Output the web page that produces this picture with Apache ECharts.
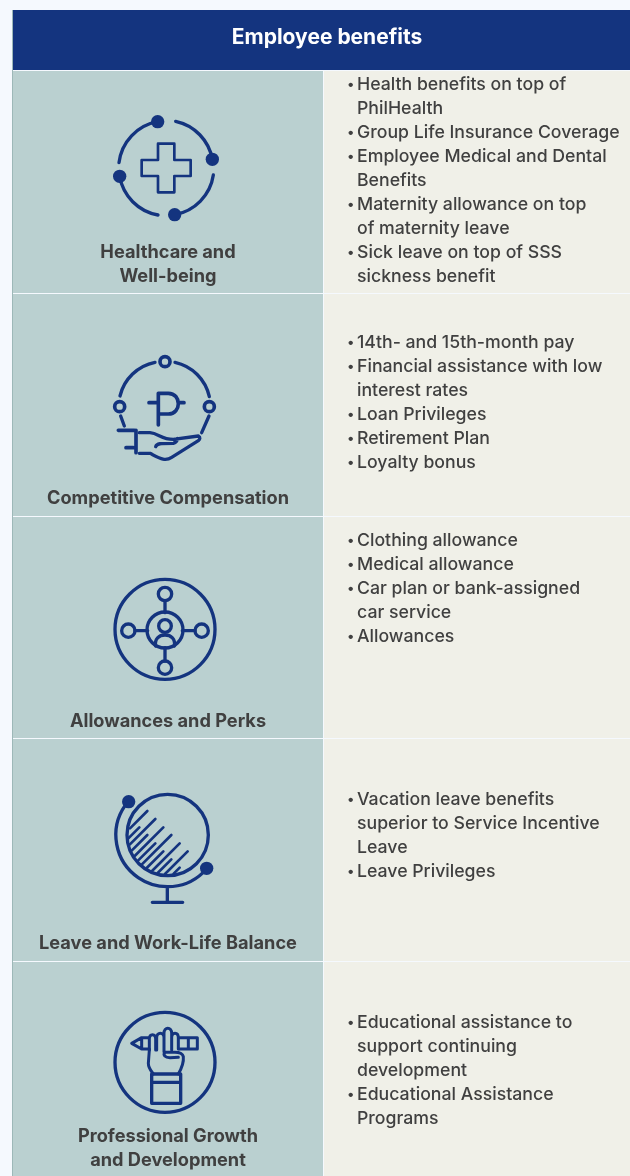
<!DOCTYPE html>
<html>
<head>
<meta charset="utf-8">
<style>
  html, body { margin: 0; padding: 0; background: #f5f9fe; }
  #main { width: 630px; height: 1176px; }
</style>
</head>
<body>
<div id="main"></div>
<script src="https://cdn.jsdelivr.net/npm/echarts@6/dist/echarts.min.js"></script>
<script>
const tableTitle = 'Employee benefits'
const rowTitles = [
  ['Healthcare and', 'Well-being'],
  ['Competitive Compensation'],
  ['Allowances and Perks'],
  ['Leave and Work-Life Balance'],
  ['Professional Growth', 'and Development'],
]
// each inner list is one bullet, split where the reference wraps it
const rowBullets = [
  [['Health benefits on top of', 'PhilHealth'], ['Group Life Insurance Coverage'], ['Employee Medical and Dental', 'Benefits'], ['Maternity allowance on top', 'of maternity leave'], ['Sick leave on top of SSS', 'sickness benefit']],
  [['14th- and 15th-month pay'], ['Financial assistance with low', 'interest rates'], ['Loan Privileges'], ['Retirement Plan'], ['Loyalty bonus']],
  [['Clothing allowance'], ['Medical allowance'], ['Car plan or bank-assigned', 'car service'], ['Allowances']],
  [['Vacation leave benefits', 'superior to Service Incentive', 'Leave'], ['Leave Privileges']],
  [['Educational assistance to', 'support continuing', 'development'], ['Educational Assistance', 'Programs']],
]

const NAVY = '#14347f'
const TEXT = '#404040'
const FONT = 'Inter, "Noto Sans", sans-serif'
const rowEdges = [71, 294, 517, 739, 962, 1177]
const titleY = [253, 499, 722, 944, 1137]
const bulletY = [85, 343, 541, 800, 1023]
const lineGap = 24

// icons are drawn in 3x local units and scaled down by their group
function stroke(width) {
  return { fill: 'none', stroke: NAVY, lineWidth: width, lineCap: 'round', lineJoin: 'round' }
}
function path(d, width) {
  return { type: 'path', shape: { pathData: d }, style: stroke(width || 10) }
}
function ring(cx, cy, r, width) {
  return { type: 'circle', shape: { cx: cx, cy: cy, r: r }, style: stroke(width || 10) }
}
function dot(cx, cy, r) {
  return { type: 'circle', shape: { cx: cx, cy: cy, r: r }, style: { fill: NAVY } }
}
function icon(x, y, children) {
  return { type: 'group', x: x, y: y, scaleX: 1 / 3, scaleY: 1 / 3, children: children }
}

const icons = [
  icon(0, 0, [
    path('M357,488 A142,142 0 0 1 473,365 M527,364 A142,142 0 0 1 637,478 M640,525 A142,142 0 0 1 524,644 M474,645 A142,142 0 0 1 359,529', 10),
    dot(473, 365, 20), dot(637, 478, 20), dot(524, 644, 20), dot(359, 529, 20),
    path('M474,431 H523 V480 H572 V528 H523 V577 H474 V528 H425 V480 H474 Z', 8),
  ]),
  icon(90, 340, [
    ring(225, 65, 15, 11), ring(89, 200, 15, 11), ring(358, 200, 15, 11),
    path('M195,67 A135,135 0 0 0 90,168 M255,67 A135,135 0 0 1 358,170 M92,228 L103,258 M357,228 L335,278', 10),
    path('M205,160 V255 M205,160 H235 C275,160 275,222 235,222 H205 M177,188 H205 M265,188 H282', 11),
    path('M85,271 H133 M138,271 V338 M108,323 H130', 11),
    path('M148,278 H180 C205,280 215,298 250,298 L325,288 C332,292 330,298 325,302 L245,352 C225,365 210,355 180,340 H148 M197,320 C200,310 210,310 250,310 C258,308 262,302 262,295', 10),
  ]),
  icon(90, 565, [
    ring(225, 193, 150), ring(225, 195, 54),
    ring(225, 87, 20), ring(115, 197, 20), ring(335, 197, 20), ring(225, 308, 20),
    path('M225,107 V143 M135,197 H173 M277,197 H315 M225,248 V288', 10),
    ring(225, 183, 19),
    path('M197,243 C193,222 207,210 225,210 C243,210 257,222 253,243', 10),
  ]),
  icon(90, 785, [
    ring(233, 150, 122), dot(116, 50, 20), dot(350, 250, 20),
    path('M105,62 A155,155 0 0 0 232,305 A155,155 0 0 0 340,262 M232,305 V352 M187,352 H278', 10),
    path('M172,78 L120,130 M196,102 L119,179 M220,127 L134,213 M244,150 L155,239 M269,175 L186,258 M293,199 L225,267', 8),
    path('M148,127 L115,160 M172,150 L125,197 M196,175 L144,227 M220,199 L170,249 M244,223 L203,264 M269,248 L251,266', 8),
  ]),
  icon(90, 1005, [
    ring(225, 172, 150),
    path('M175,98 L155,98 L125,115 L155,132 L178,132 M268,98 H322 V132 H268 M295,100 V130 M155,98 V132', 9),
    path('M178,135 V103 C178,85 197,85 197,103 V135 M200,135 V98 C200,80 222,80 222,98 V135 M222,140 V85 C222,65 245,65 245,85 V135 M245,135 V98 C245,80 265,80 265,98 V132', 9),
    path('M178,135 L175,175 C175,190 185,200 190,207 M265,207 C272,195 282,175 280,155 C278,145 265,140 245,142 H225 C218,150 225,158 240,158 L265,157', 9),
    path('M185,207 H272 V295 H185 Z M185,232 H272', 10),
  ]),
]

function textEl(str, x, y, size, weight, color, align) {
  return {
    type: 'text', x: x, y: y,
    style: { text: str, fill: color, font: weight + ' ' + size + 'px ' + FONT, textAlign: align || 'left', textVerticalAlign: 'middle' },
  }
}
function rect(x, y, w, h, fill) {
  return { type: 'rect', shape: { x: x, y: y, width: w, height: h }, style: { fill: fill } }
}

const elements = []
elements.push(rect(0, 0, 630, 1176, '#f5f9fe'))
elements.push(rect(12, 10, 1, 1166, '#9db8b8'))
elements.push(rect(13, 10, 617, 60, NAVY))
elements.push(textEl(tableTitle, 327, 38, 21, 700, '#ffffff', 'center'))
rowTitles.forEach(function (lines, i) {
  const top = rowEdges[i]
  const bottom = rowEdges[i + 1]
  elements.push(rect(13, top, 310, bottom - top - 1, '#bad0d0'))
  elements.push(rect(324, top, 306, bottom - top - 1, '#f0f0e8'))
  lines.forEach(function (line, k) {
    elements.push(textEl(line, 168, titleY[i] + k * lineGap, 18.2, 700, TEXT, 'center'))
  })
  let row = 0
  rowBullets[i].forEach(function (bullet) {
    elements.push(textEl('•', 347, bulletY[i] + row * lineGap, 14, 500, TEXT))
    bullet.forEach(function (line) {
      elements.push(textEl(line, 357, bulletY[i] + row * lineGap, 17.7, 500, TEXT))
      row++
    })
  })
})

const chart = echarts.init(document.getElementById('main'), null, { renderer: 'canvas' })
chart.setOption({
  animation: false,
  graphic: { elements: elements },
  series: [{
    type: 'custom',
    coordinateSystem: 'none',
    silent: true,
    z: 10,
    data: rowTitles.map(function (t, i) { return i }),
    renderItem: function (params, api) {
      return icons[api.value(0)]
    },
  }],
})
</script>
</body>
</html>
